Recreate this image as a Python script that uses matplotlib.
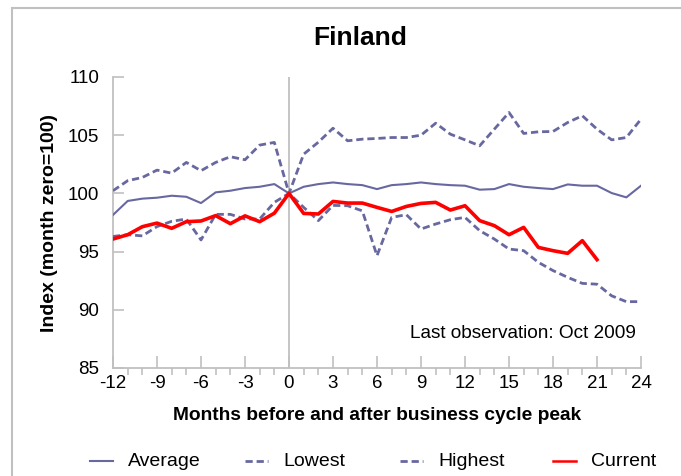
import matplotlib
matplotlib.use("Agg")
import matplotlib.pyplot as plt
from matplotlib.lines import Line2D
from matplotlib.patches import Rectangle
import numpy as np

plt.rcParams['font.family'] = ['Liberation Sans', 'DejaVu Sans']
plt.rcParams['axes.unicode_minus'] = False

months = list(range(-12, 25))
average = [98.15, 99.35, 99.55, 99.63, 99.8, 99.71, 99.17, 100.09, 100.23, 100.46, 100.57, 100.8,
           100.0, 100.57, 100.8, 100.94, 100.8, 100.71, 100.37, 100.71, 100.8, 100.94, 100.8, 100.71,
           100.66, 100.32, 100.37, 100.8, 100.57, 100.46, 100.37, 100.77, 100.66, 100.66, 100.03, 99.66, 100.66]
lowest = [96.3, 96.45, 96.35, 97.15, 97.6, 97.8, 96.0, 98.2, 98.2, 97.8, 97.8, 99.23,
          100.0, 98.8, 97.66, 98.97, 98.94, 98.5, 94.65, 97.94, 98.17, 96.94, 97.37, 97.74,
          97.94, 96.8, 96.08, 95.22, 95.08, 94.08, 93.37, 92.79, 92.27, 92.2, 91.2, 90.7, 90.7]
highest = [100.23, 101.09, 101.37, 102.0, 101.74, 102.66, 101.95, 102.66, 103.15, 102.89, 104.15, 104.38,
           100.0, 103.37, 104.4, 105.6, 104.52, 104.66, 104.72, 104.8, 104.8, 105.0, 106.03, 105.09,
           104.6, 104.09, 105.52, 106.95, 105.15, 105.29, 105.32, 106.09, 106.67, 105.52, 104.6, 104.8, 106.38]
current_months = list(range(-12, 22))
current = [96.08, 96.45, 97.14, 97.45, 97.0, 97.57, 97.63, 98.09, 97.40, 98.07, 97.57, 98.3,
           100.0, 98.28, 98.23, 99.31, 99.17, 99.17, 98.8, 98.45, 98.88, 99.14, 99.23, 98.57,
           98.94, 97.66, 97.23, 96.45, 97.08, 95.36, 95.08, 94.85, 95.94, 94.31]

xticks = list(range(-12, 25, 3))
yticks = [85, 90, 95, 100, 105, 110]
legend_labels = ['Average', 'Lowest', 'Highest', 'Current']

W, H = 681, 476
fig = plt.figure(figsize=(W / 100, H / 100), dpi=100)
ax = fig.add_axes([113 / W, 1 - 368 / H, (641 - 113) / W, (368 - 77) / H])

blue = '#6868A0'
red = '#FF0000'
gray = '#C0C0C0'
dash = (2.6, 1.4)

ax.axvline(0, color=gray, lw=1.3, zorder=1)
ax.plot(months, average, color=blue, lw=1.5, zorder=3)
ax.plot(months, lowest, color=blue, lw=2.0, dashes=dash, zorder=3)
ax.plot(months, highest, color=blue, lw=2.0, dashes=dash, zorder=3)
ax.plot(current_months, current, color=red, lw=2.6, zorder=4)

ax.set_xlim(-12, 24)
ax.set_ylim(85, 110)
ax.set_xticks(xticks)
ax.set_xticks(range(-12, 25), minor=True)
ax.set_yticks(yticks)
ax.tick_params(axis='both', direction='in', colors=gray, labelcolor='black', labelsize=13.5, width=1.2)
ax.tick_params(axis='x', which='major', length=9, pad=5)
ax.tick_params(axis='x', which='minor', length=5, width=1.2, colors=gray)
ax.tick_params(axis='y', which='major', length=8, pad=10)

for s in ['top', 'right']:
    ax.spines[s].set_visible(False)
for s in ['left', 'bottom']:
    ax.spines[s].set_color(gray)
    ax.spines[s].set_linewidth(1.3)

ax.set_xlabel('Months before and after business cycle peak', fontsize=13.8, fontweight='bold', labelpad=11)
ax.set_ylabel('Index (month zero=100)', fontsize=14, fontweight='bold', labelpad=7)

ax.text(0.99, 0.12, 'Last observation: Oct 2009', transform=ax.transAxes, ha='right', va='center', fontsize=13.7)

fig.text(360 / W, 1 - 38 / H, 'Finland', ha='center', va='center', fontsize=19, fontweight='bold')

# outer frame
fig.patches.append(Rectangle((12 / W, -0.1), 1.2, 1 - 8 / H + 0.1, transform=fig.transFigure,
                             fill=False, edgecolor=gray, lw=1.5))

# legend (fixed column positions as in the reference)
styles = [dict(color=blue, lw=1.5), dict(color=blue, lw=2.0, dashes=dash),
          dict(color=blue, lw=2.0, dashes=dash), dict(color=red, lw=1.8)]
col_x = [90, 245, 400, 553]
ly = 1 - 461 / H
for x0, lab, st in zip(col_x, legend_labels, styles):
    fig.add_artist(Line2D([x0 / W, (x0 + 23) / W], [ly, ly], transform=fig.transFigure, **st))
    fig.text((x0 + 38) / W, ly, lab, ha='left', va='center', fontsize=14)

fig.savefig('out.png', dpi=100)
